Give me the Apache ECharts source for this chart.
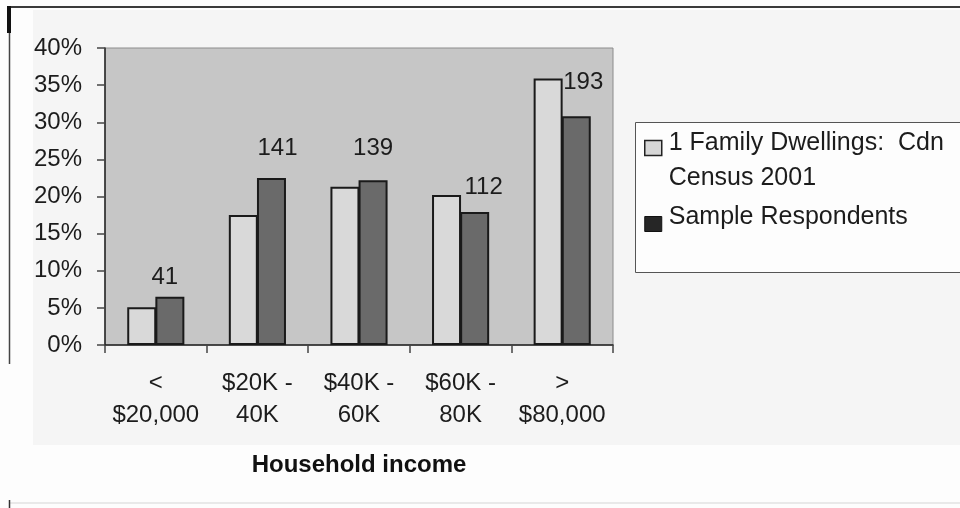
<!DOCTYPE html>
<html>
<head>
<meta charset="utf-8">
<script src="https://cdn.jsdelivr.net/npm/echarts@6/dist/echarts.min.js"></script>
<style>
  html, body { margin: 0; padding: 0; background: #fdfdfd; }
  #chart { width: 960px; height: 508px; }
</style>
</head>
<body>
<div id="chart"></div>
<script>
// Household income brackets (two-line axis labels)
const categories = ['<\n$20,000', '$20K -\n40K', '$40K -\n60K', '$60K -\n80K', '>\n$80,000'];
// Share of 1-family dwellings, Canadian Census 2001 (%)
const censusShare = [5.1, 17.5, 21.3, 20.2, 35.9];
// Share of sample respondents (%)
const sampleShare = [6.5, 22.5, 22.2, 17.9, 30.8];
// Number of sample respondents per bracket
const sampleCounts = [41, 141, 139, 112, 193];
const seriesNames = ['1 Family Dwellings:  Cdn\nCensus 2001', 'Sample Respondents'];
const axisTitle = 'Household income';
const yMin = 0, yMax = 40, yStep = 5;

// Small pixel nudges for the hand-placed count labels
const countLabelNudge = [[-5, -7], [6, -18], [0, -20], [9, -13], [7, -22]];

const FONT = '"Liberation Sans", Arial, Helvetica, sans-serif';
const INK = '#1c1c1c';

// Legend entries: the first line of each entry sits level with its swatch
function legendLabel(name) {
  if (name === seriesNames[0]) {
    const lines = name.split('\n').map(s => '{t|' + s + '}');
    return '{lead| }\n' + lines.join('\n');
  }
  return '{t|' + name + '}\n{tail| }';
}

const chart = echarts.init(document.getElementById('chart'), null, { renderer: 'canvas' });

chart.setOption({
  backgroundColor: '#fdfdfd',
  animation: false,
  grid: {
    left: 105, right: 347, top: 48, bottom: 163,
    show: true,
    backgroundColor: '#c6c6c6',
    borderColor: '#8c8c8c',
    borderWidth: 1
  },
  legend: {
    orient: 'vertical',
    left: 644,
    top: 108,
    padding: 0,
    itemGap: 14,
    itemWidth: 17,
    itemHeight: 15,
    icon: 'rect',
    selectedMode: false,
    z: 10,
    formatter: legendLabel,
    textStyle: {
      fontFamily: FONT, fontSize: 25, color: INK,
      rich: {
        t: { fontFamily: FONT, fontSize: 25, lineHeight: 35, color: INK, padding: [0, 0, 0, 2] },
        lead: { fontSize: 10, lineHeight: 25 },
        tail: { fontSize: 10, lineHeight: 14 }
      }
    },
    data: [
      { name: seriesNames[0], itemStyle: { color: '#d6d6d6', borderColor: '#222', borderWidth: 1.5 } },
      { name: seriesNames[1], itemStyle: { color: '#262626', borderColor: '#111', borderWidth: 1 } }
    ]
  },
  xAxis: {
    type: 'category',
    data: categories,
    name: axisTitle,
    nameLocation: 'middle',
    nameGap: 108,
    nameTextStyle: { fontFamily: FONT, fontSize: 24, fontWeight: 'bold', color: '#111' },
    axisLine: { show: true, lineStyle: { color: '#222', width: 1.5 } },
    axisTick: { show: true, length: 8, alignWithLabel: false, lineStyle: { color: '#444', width: 1.5 } },
    axisLabel: {
      interval: 0,
      margin: 22,
      fontFamily: FONT,
      fontSize: 24,
      lineHeight: 32,
      color: INK,
      align: 'center'
    },
    splitLine: { show: false }
  },
  yAxis: {
    type: 'value',
    min: yMin,
    max: yMax,
    interval: yStep,
    axisLine: { show: true, lineStyle: { color: '#222', width: 1.5 } },
    axisTick: { show: true, length: 8, lineStyle: { color: '#444', width: 1.5 } },
    axisLabel: {
      margin: 23,
      fontFamily: FONT,
      fontSize: 24,
      color: INK,
      formatter: '{value}%'
    },
    splitLine: { show: false }
  },
  series: [
    {
      name: seriesNames[0],
      type: 'bar',
      barWidth: 29,
      barGap: '-3%',
      data: censusShare,
      itemStyle: { color: '#d9d9d9', borderColor: '#1a1a1a', borderWidth: 2 },
      z: 2
    },
    {
      name: seriesNames[1],
      type: 'bar',
      barWidth: 29,
      data: sampleShare.map((v, i) => ({
        value: v,
        label: { formatter: String(sampleCounts[i]), offset: countLabelNudge[i] }
      })),
      itemStyle: { color: '#6a6a6a', borderColor: '#1a1a1a', borderWidth: 2 },
      label: {
        show: true,
        position: 'top',
        distance: 0,
        fontFamily: FONT,
        fontSize: 24,
        lineHeight: 24,
        color: INK
      },
      z: 3
    }
  ],
  graphic: [
    // pale panel behind the chart body
    { type: 'rect', silent: true, z: -10, shape: { x: 33, y: 10, width: 927, height: 435 }, style: { fill: '#f5f5f5' } },
    // legend frame
    { type: 'rect', silent: true, z: 1, shape: { x: 635.5, y: 122.5, width: 340, height: 150 }, style: { fill: '#fdfdfd', stroke: '#555', lineWidth: 1 } },
    // page rules
    { type: 'line', silent: true, z: 20, shape: { x1: 8, y1: 7, x2: 960, y2: 7 }, style: { stroke: '#3a3a3a', lineWidth: 2 } },
    { type: 'line', silent: true, z: 20, shape: { x1: 9.5, y1: 6, x2: 9.5, y2: 364 }, style: { stroke: '#444', lineWidth: 1.5 } },
    { type: 'line', silent: true, z: 20, shape: { x1: 9, y1: 6, x2: 9, y2: 33 }, style: { stroke: '#111', lineWidth: 4 } },
    { type: 'line', silent: true, z: 20, shape: { x1: 9, y1: 503, x2: 960, y2: 503 }, style: { stroke: '#e2e2e2', lineWidth: 1.5 } },
    { type: 'line', silent: true, z: 20, shape: { x1: 9.5, y1: 500, x2: 9.5, y2: 508 }, style: { stroke: '#333', lineWidth: 1.5 } }
  ]
});
</script>
</body>
</html>
